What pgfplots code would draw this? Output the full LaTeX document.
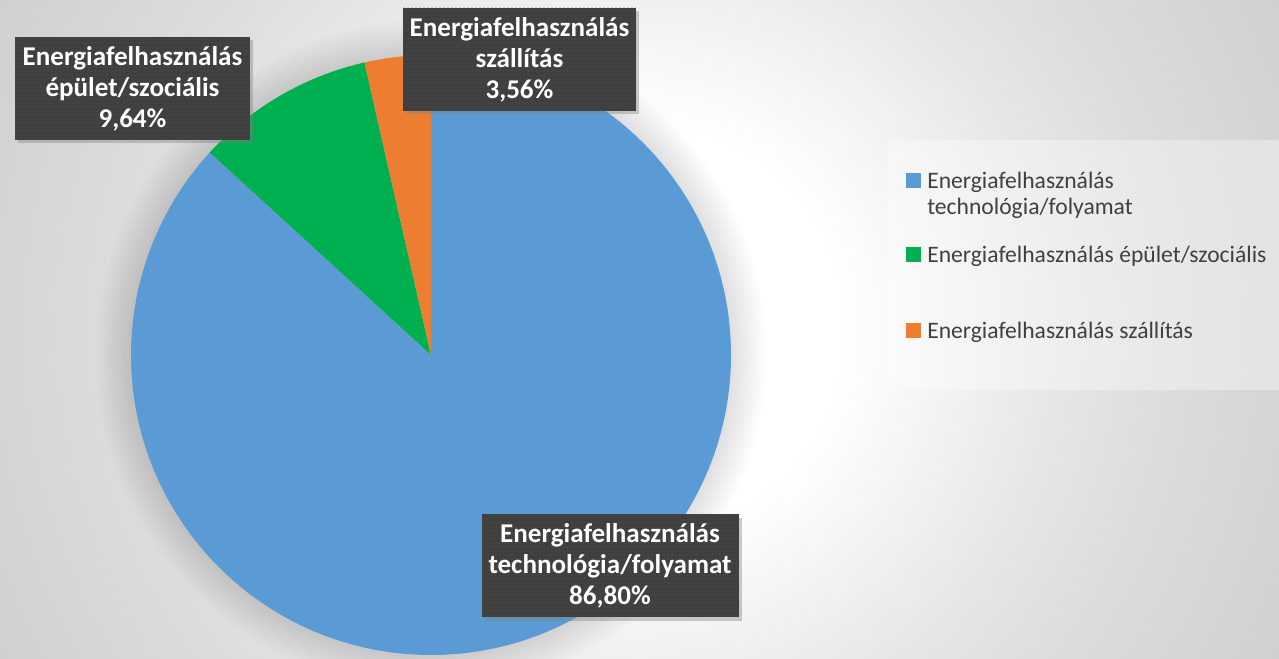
\documentclass[border=0pt]{standalone}
\usepackage{pgfplots}
\pgfplotsset{compat=1.18}
\usepackage{pgfplotstable}
\usepackage{fontspec}
\setmainfont{Carlito}
\usetikzlibrary{patterns,shadows}

\definecolor{cBlue}{HTML}{5B9BD5}
\definecolor{cGreen}{HTML}{00B050}
\definecolor{cOrange}{HTML}{ED7D31}
\definecolor{lblbg}{HTML}{3F3F3F}
\definecolor{lbldot}{HTML}{585858}
\definecolor{legtext}{HTML}{404040}
\definecolor{bgA}{HTML}{FFFFFF}
\definecolor{bgB}{HTML}{E6E6E6}
\definecolor{bgC}{HTML}{DCDCDC}
\definecolor{bgD}{HTML}{D0D0D0}
\definecolor{bgE}{HTML}{C9C9C9}

\pgfdeclareradialshading{bgshade}{\pgfpoint{0bp}{0bp}}{%
  color(0bp)=(bgA); color(6.25bp)=(bgA); color(13.1bp)=(bgB);
  color(16.6bp)=(bgC); color(22.5bp)=(bgD); color(25bp)=(bgE); color(50bp)=(bgE)}

\pgfplotstableread{
idx value
0 86.80
1 9.64
2 3.56
}\piedata

\pgfplotstablegetelem{0}{value}\of\piedata \let\vA\pgfplotsretval
\pgfplotstablegetelem{1}{value}\of\piedata \let\vB\pgfplotsretval
\pgfplotstablegetelem{2}{value}\of\piedata \let\vC\pgfplotsretval
\pgfmathsetmacro\aA{90}
\pgfmathsetmacro\aB{\aA-3.6*\vA}
\pgfmathsetmacro\aC{\aB-3.6*\vB}
\pgfmathsetmacro\aD{\aC-3.6*\vC}

\tikzset{
  lbl/.style={drop shadow={shadow xshift=2.5pt, shadow yshift=-2.5pt, opacity=0.4},
    fill=lblbg, postaction={pattern=dots, pattern color=lbldot},
    text=white, font=\bfseries\fontsize{20.3}{23.2}\selectfont,
    align=center, inner sep=0pt, minimum height=77.25pt},
  legtxt/.style={anchor=base west, inner sep=0pt, text=legtext,
    font=\fontsize{17.7}{19.5}\selectfont},
}

\begin{document}
\begin{tikzpicture}
\begin{axis}[x=0.75pt, y=0.75pt, xmin=0, xmax=1279, ymin=0, ymax=659,
  hide axis, clip=false]
% background
\begin{scope}
  \clip (axis cs:0,0) rectangle (axis cs:1279,659);
  \shade[shading=bgshade] (axis cs:640,330) circle[radius=600pt];
  \pgfplotsinvokeforeach{1,...,10}{
    \fill[black, opacity=0.012] (axis cs:431,304) circle[radius=225pt+#1*2.6pt];
  }
\end{scope}
% pie sectors
\fill[cBlue] (axis cs:431,304) -- ++(\aA:225pt) arc[start angle=\aA, end angle=\aB, radius=225pt] -- cycle;
\fill[cGreen] (axis cs:431,304) -- ++(\aB:225pt) arc[start angle=\aB, end angle=\aC, radius=225pt] -- cycle;
\fill[cOrange] (axis cs:431,304) -- ++(\aC:225pt) arc[start angle=\aC, end angle=\aD, radius=225pt] -- cycle;
% data labels
\node[lbl, minimum width=192.75pt] at (axis cs:610,93) {Energiafelhasználás\\technológia/folyamat\\86,80\%};
\node[lbl, minimum width=176.25pt] at (axis cs:132.5,570.5) {Energiafelhasználás\\épület/szociális\\9,64\%};
\node[lbl, minimum width=174.75pt] at (axis cs:519.5,599.5) {Energiafelhasználás\\szállítás\\3,56\%};
% legend
\fill[white, opacity=0.35] (axis cs:888,269) rectangle (axis cs:1279,519);
\fill[cBlue] (axis cs:906,471) rectangle (axis cs:921,486);
\fill[cGreen] (axis cs:906,396.5) rectangle (axis cs:921,411.5);
\fill[cOrange] (axis cs:906,320.5) rectangle (axis cs:921,335.5);
\node[legtxt] at (axis cs:927,470.5) {Energiafelhasználás};
\node[legtxt] at (axis cs:927,444.5) {technológia/folyamat};
\node[legtxt] at (axis cs:927,396) {Energiafelhasználás épület/szociális};
\node[legtxt] at (axis cs:927,320) {Energiafelhasználás szállítás};
\end{axis}
\pgfresetboundingbox
\useasboundingbox (0,0) rectangle (959.25pt,494.25pt);
\end{tikzpicture}
\end{document}
